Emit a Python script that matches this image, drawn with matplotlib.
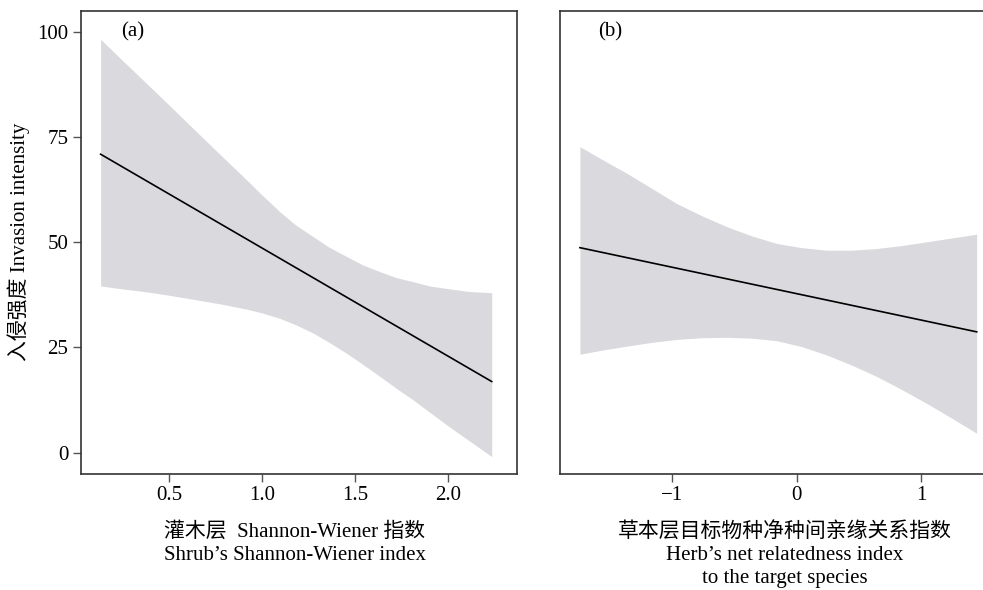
import matplotlib.pyplot as plt

plt.rcParams['font.family'] = ['Liberation Serif', 'Noto Sans CJK SC']
plt.rcParams['axes.unicode_minus'] = True

# (a) shrub Shannon-Wiener index
shrub_x = [0.133, 0.25, 0.38, 0.50, 0.649, 0.78, 0.917, 1.00, 1.096, 1.18, 1.275,
           1.36, 1.454, 1.54, 1.633, 1.72, 1.812, 1.90, 1.991, 2.11, 2.233]
shrub_upper = [98.2, 93.2, 87.7, 82.6, 76.2, 70.6, 64.8, 61.2, 57.2, 54.1, 51.3,
               48.8, 46.6, 44.6, 43.0, 41.6, 40.6, 39.6, 39.0, 38.3, 38.0]
shrub_lower = [39.6, 38.9, 38.2, 37.4, 36.3, 35.3, 34.1, 33.2, 31.9, 30.4, 28.4,
               26.2, 23.6, 21.0, 18.1, 15.3, 12.5, 9.6, 6.6, 2.9, -0.95]
shrub_fit_x = [0.133, 2.233]
shrub_fit_y = [70.9, 16.9]

# (b) herb net relatedness index
herb_x = [-1.745, -1.557, -1.369, -1.167, -0.966, -0.765, -0.564, -0.362, -0.161,
          0.04, 0.242, 0.443, 0.644, 0.845, 1.047, 1.248, 1.449]
herb_upper = [72.7, 69.5, 66.4, 62.8, 59.2, 56.3, 53.7, 51.5, 49.7,
              48.7, 48.1, 48.1, 48.5, 49.2, 50.1, 51.0, 51.9]
herb_lower = [23.4, 24.4, 25.3, 26.2, 26.9, 27.3, 27.4, 27.2, 26.6,
              25.2, 23.2, 20.8, 18.1, 15.0, 11.7, 8.2, 4.6]
herb_fit_x = [-1.745, 1.449]
herb_fit_y = [48.7, 28.7]

band_color = '#dadade'
spine_color = '#333333'
fs = 15

fig = plt.figure(figsize=(9.83, 5.9), dpi=100)
ax1 = fig.add_axes([0.0821, 0.1971, 0.4435, 0.7848])
ax2 = fig.add_axes([0.5697, 0.1971, 0.4441, 0.7848])

for ax in (ax1, ax2):
    for s in ax.spines.values():
        s.set_color(spine_color)
        s.set_linewidth(1.2)
    ax.tick_params(direction='out', length=6, width=1, color='#555555',
                   labelsize=fs, pad=3)
    ax.set_ylim(-5, 105)

ax1.fill_between(shrub_x, shrub_lower, shrub_upper, color=band_color, lw=0)
ax1.plot(shrub_fit_x, shrub_fit_y, color='black', lw=1.2)
ax1.set_xlim(0.026, 2.367)
ax1.set_xticks([0.5, 1.0, 1.5, 2.0])
ax1.set_xticklabels(['0.5', '1.0', '1.5', '2.0'])
ax1.set_yticks([0, 25, 50, 75, 100])
ax1.set_ylabel('入侵强度 Invasion intensity', fontsize=fs)
ax1.yaxis.set_label_coords(-0.1415, 0.5)
ax1.yaxis.label.set_va('center')
ax1.set_xlabel('灌木层  Shannon-Wiener 指数\nShrub’s Shannon-Wiener index',
               fontsize=fs, linespacing=1.3)
ax1.xaxis.set_label_coords(0.4915, -0.104)
ax1.xaxis.label.set_va('top')
ax1.text(0.307, 100, '(a)', fontsize=fs, ha='center', va='center')

ax2.fill_between(herb_x, herb_lower, herb_upper, color=band_color, lw=0)
ax2.plot(herb_fit_x, herb_fit_y, color='black', lw=1.2)
ax2.set_xlim(-1.905, 1.609)
ax2.set_xticks([-1, 0, 1])
ax2.set_yticks([])
ax2.set_xlabel('草本层目标物种净种间亲缘关系指数\nHerb’s net relatedness index\nto the target species',
               fontsize=fs, linespacing=1.3)
ax2.xaxis.set_label_coords(0.515, -0.104)
ax2.xaxis.label.set_va('top')
ax2.text(-1.503, 100, '(b)', fontsize=fs, ha='center', va='center')

fig.savefig('out.png', dpi=100)
